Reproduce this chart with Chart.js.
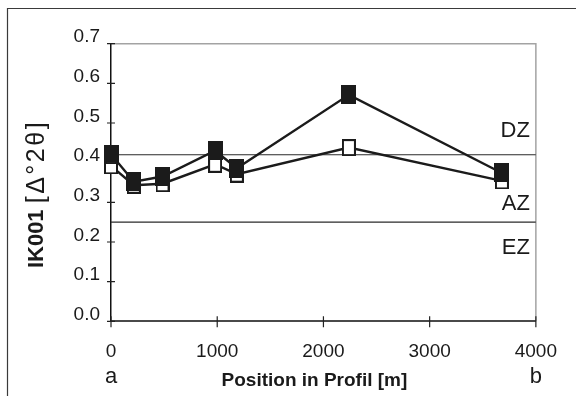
<!DOCTYPE html>
<html>
<head>
<meta charset="utf-8">
<script src="https://cdn.jsdelivr.net/npm/chart.js@4/dist/chart.umd.min.js"></script>
<style>
  html, body { margin: 0; padding: 0; background: #fff; }
  #wrap { width: 576px; height: 396px; }
</style>
</head>
<body>
<div id="wrap"><canvas id="c" width="576" height="396"></canvas></div>
<script>
// Sampling positions along the profile [m]
const positions = [0, 215, 485, 980, 1185, 2240, 3680];
// IK001 values, two measurement series
const seriesFilled = [0.421, 0.352, 0.365, 0.430, 0.386, 0.571, 0.374];
const seriesOpen   = [0.392, 0.343, 0.347, 0.396, 0.371, 0.438, 0.354];
// Zone boundaries (DZ / AZ and AZ / EZ) and zone names
const zoneLimits = [0.42, 0.25];
const zoneNames = ['DZ', 'AZ', 'EZ'];
const zoneNameAt = [0.48, 0.295, 0.185];
// Axis ranges and tick steps
const xRange = [0, 4000];
const xStep = 1000;
const yRange = [0.0, 0.7];
const yStep = 0.1;
// Profile end points
const profileEnds = ['a', 'b'];
const profileEndAt = [0, 4000];

const FONT = '"Liberation Sans", Arial, Helvetica, sans-serif';

function markerCanvas(w, h, filled) {
  const cv = document.createElement('canvas');
  cv.width = w; cv.height = h;
  const g = cv.getContext('2d');
  if (filled) {
    g.fillStyle = '#1b1b1b';
    g.fillRect(0, 0, w, h);
  } else {
    g.fillStyle = '#ffffff';
    g.fillRect(0, 0, w, h);
    g.strokeStyle = '#1b1b1b';
    g.lineWidth = 2;
    g.strokeRect(1, 1, w - 2, h - 2);
  }
  return cv;
}
const filledMark = markerCanvas(15, 19, true);
const openMark = markerCanvas(14, 17, false);

const toXY = (xs, ys) => xs.map((x, i) => ({ x: x, y: ys[i] }));

const datasets = [
  {
    label: 'filled',
    data: toXY(positions, seriesFilled),
    borderColor: '#1b1b1b',
    borderWidth: 2.4,
    pointStyle: filledMark,
    pointRadius: 8,
    tension: 0,
    clip: false
  },
  {
    label: 'open',
    data: toXY(positions, seriesOpen),
    borderColor: '#1b1b1b',
    borderWidth: 2.4,
    pointStyle: openMark,
    pointRadius: 8,
    tension: 0,
    clip: false
  }
].concat(zoneLimits.map((v, i) => ({
  label: 'limit' + i,
  data: toXY(xRange, [v, v]),
  borderColor: '#2a2a2a',
  borderWidth: 1.2,
  pointRadius: 0,
  tension: 0
})));

const decorations = {
  id: 'decorations',
  beforeDraw(chart) {
    const ctx = chart.ctx;
    ctx.save();
    ctx.fillStyle = '#ffffff';
    ctx.fillRect(0, 0, chart.width, chart.height);
    // outer frame
    ctx.strokeStyle = '#3a3a3a';
    ctx.lineWidth = 1.2;
    ctx.beginPath();
    ctx.moveTo(7.5, chart.height);
    ctx.lineTo(7.5, 8.5);
    ctx.lineTo(chart.width, 8.5);
    ctx.stroke();
    // top and right edges of the plot area
    const a = chart.chartArea;
    ctx.strokeStyle = '#a3a3a3';
    ctx.lineWidth = 1.5;
    ctx.beginPath();
    ctx.moveTo(a.left, a.top);
    ctx.lineTo(a.right, a.top);
    ctx.lineTo(a.right, a.bottom);
    ctx.stroke();
    ctx.restore();
  },
  afterDraw(chart) {
    const ctx = chart.ctx;
    const xs = chart.scales.x, ys = chart.scales.y;
    const a = chart.chartArea;
    ctx.save();
    // crossing tick marks
    ctx.strokeStyle = '#222';
    ctx.lineWidth = 1.2;
    ctx.beginPath();
    ys.ticks.forEach(t => {
      const py = ys.getPixelForValue(t.value);
      ctx.moveTo(a.left - 4, py);
      ctx.lineTo(a.left + 4, py);
    });
    xs.ticks.forEach(t => {
      const px = xs.getPixelForValue(t.value);
      ctx.moveTo(px, a.bottom - 5);
      ctx.lineTo(px, a.bottom + 6);
    });
    ctx.stroke();

    // zone names
    ctx.fillStyle = '#1a1a1a';
    ctx.font = '22px ' + FONT;
    ctx.textAlign = 'right';
    ctx.textBaseline = 'middle';
    zoneNames.forEach((n, i) => {
      ctx.fillText(n, a.right - 6, ys.getPixelForValue(zoneNameAt[i]));
    });

    // profile end labels
    ctx.textAlign = 'center';
    profileEnds.forEach((n, i) => {
      ctx.fillText(n, xs.getPixelForValue(profileEndAt[i]), 377);
    });

    // x axis title
    ctx.font = 'bold 19px ' + FONT;
    ctx.fillText('Position in Profil [m]', (a.left + a.right) / 2 - 9, 381);

    // y axis title (bold name, regular unit)
    ctx.translate(37, 194);
    ctx.rotate(-Math.PI / 2);
    const part1 = 'IK001 ';
    const part2 = '[\u0394\u00b02\u03b8]';
    const unitFont = '25px ' + FONT;
    ctx.font = 'bold 22px ' + FONT;
    const w1 = ctx.measureText(part1).width;
    ctx.font = unitFont;
    ctx.letterSpacing = '2.5px';
    const w2 = ctx.measureText(part2).width;
    ctx.letterSpacing = '0px';
    const x0 = -(w1 + w2) / 2;
    ctx.textAlign = 'left';
    ctx.font = 'bold 22px ' + FONT;
    ctx.fillText(part1, x0, 0);
    ctx.font = unitFont;
    ctx.letterSpacing = '2.5px';
    ctx.fillText(part2, x0 + w1, 0);
    ctx.restore();
  }
};

new Chart(document.getElementById('c'), {
  type: 'line',
  data: { datasets: datasets },
  plugins: [decorations],
  options: {
    responsive: false,
    animation: false,
    events: [],
    layout: { padding: { left: 0, top: 43.7, right: 33.7, bottom: 0 } },
    plugins: { legend: { display: false }, tooltip: { enabled: false } },
    scales: {
      x: {
        type: 'linear',
        min: xRange[0],
        max: xRange[1],
        afterFit: s => { s.height = 74.7; },
        grid: { display: false, drawTicks: false },
        border: { display: true, color: '#4a4a4a', width: 2 },
        ticks: {
          stepSize: xStep,
          padding: 19,
          color: '#1a1a1a',
          font: { family: FONT, size: 19 },
          maxRotation: 0,
          callback: v => String(v)
        }
      },
      y: {
        type: 'linear',
        min: yRange[0],
        max: yRange[1],
        afterFit: s => { s.width = 111; },
        grid: { display: false, drawTicks: false },
        border: { display: true, color: '#111', width: 1.5 },
        ticks: {
          stepSize: yStep,
          padding: 11,
          labelOffset: -6.5,
          color: '#1a1a1a',
          font: { family: FONT, size: 19 },
          callback: v => Number(v).toFixed(1)
        }
      }
    }
  }
});
</script>
</body>
</html>
